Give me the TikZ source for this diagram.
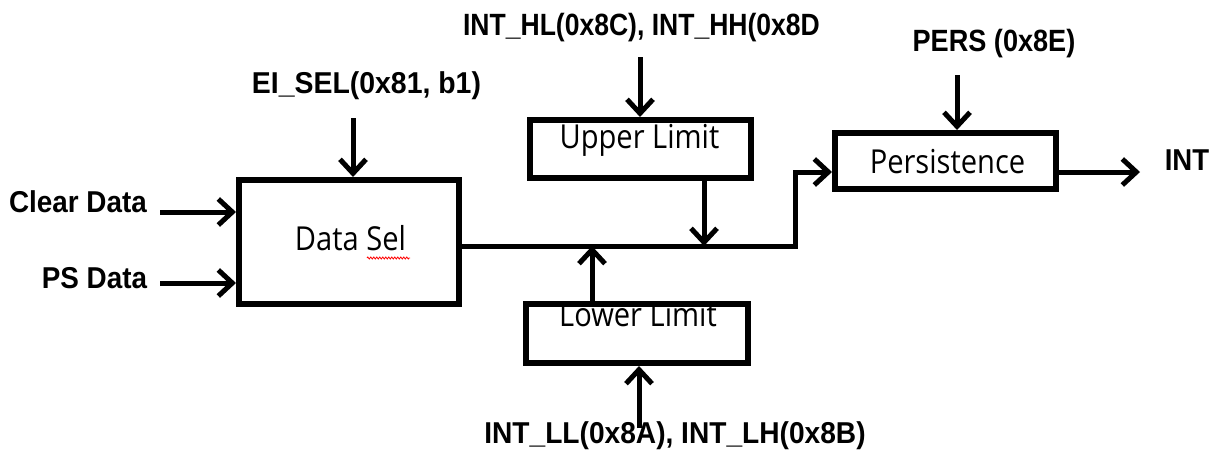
\documentclass[tikz,border=0pt]{standalone}
\usepackage{fontspec}
\setmainfont{Liberation Sans}
\newfontfamily\boxfont{Open Sans}
\usetikzlibrary{arrows.meta,decorations.pathmorphing}
\tikzset{
  blk/.style={draw, line width=6pt, inner sep=0pt, rectangle},
  conn/.style={line width=5pt, -{Straight Barb[length=14pt,width=26pt]}},
  lbl/.style={inner sep=0pt, anchor=base, font=\fontsize{29}{33}\selectfont\bfseries},
  btxt/.style={inner sep=0pt, anchor=base, font=\fontsize{30}{34}\selectfont\boxfont}
}
\begin{document}
\begin{tikzpicture}[x=1pt,y=-1pt]
\useasboundingbox (0,0) rectangle (1225,450);
% boxes
\node[blk, minimum width=220pt, minimum height=124pt] (dsel) at (349,242) {};
\node[blk, minimum width=221pt, minimum height=58pt] (upper) at (640.5,149) {};
\node[blk, minimum width=222pt, minimum height=59pt] (lower) at (637,333.5) {};
\node[blk, minimum width=221pt, minimum height=56pt] (pers) at (945.5,161) {};
% box texts
\node[btxt] (dseltxt) at (350.5,250) {\scalebox{0.97}[1.1]{Data Sel}};
\node[btxt] (uppertxt) at (639.5,148.3) {\scalebox{0.97}[1.1]{Upper Limit}};
\node[btxt] (lowertxt) at (638,326.7) {\scalebox{0.97}[1.1]{Lower Limit}};
\node[btxt] (perstxt) at (947.5,173.3) {\scalebox{0.97}[1.1]{Persistence}};
\draw[red, line width=0.8pt, decorate, decoration={zigzag, segment length=3pt, amplitude=1pt}] (367,258) -- (410,258);
% coordinates
\coordinate (cdS) at (160,212);
\coordinate (psS) at (160,283);
\coordinate (eiS) at (353,118);
\coordinate (hlS) at (640,57);
\coordinate (llS) at (639,428);
\coordinate (peS) at (957,75);
\coordinate (uhit) at (704,246);
\coordinate (lhit) at (592,246);
\coordinate (bend) at (795,246);
\coordinate (pin) at (832,172);
\coordinate (out) at (1140,172);
% connectors
\draw[conn] (cdS) -- (cdS -| dsel.west);
\draw[conn] (psS) -- (psS -| dsel.west);
\draw[conn] (eiS) -- (eiS |- dsel.north);
\draw[conn] (hlS) -- (hlS |- upper.north);
\draw[conn] (peS) -- (peS |- pers.north);
\draw[conn] (llS) -- (llS |- lower.south);
\draw[conn] (uhit |- upper.south) -- (uhit);
\draw[conn] (lhit |- lower.north) -- (lhit);
\draw[conn] (dsel.east |- bend) -- (bend) -- (bend |- pin) -- (pin -| pers.west);
\draw[conn] (out -| pers.east) -- (out);
% labels
\node[lbl] (cd) at (78,212.5) {\scalebox{0.96}[1.04]{Clear Data}};
\node[lbl] (ps) at (94.5,288) {\scalebox{0.96}[1.04]{PS Data}};
\node[lbl] (ei) at (366.5,93.3) {\scalebox{0.98}[1.04]{EI\_SEL(0x81, b1)}};
\node[lbl] (hl) at (641.5,35.7) {\scalebox{0.915}[1.06]{INT\_HL(0x8C), INT\_HH(0x8D}};
\node[lbl] (pe) at (994,51.7) {\scalebox{0.935}[1.06]{PERS (0x8E)}};
\node[lbl] (ll) at (675,443.3) {\scalebox{0.97}[1.04]{INT\_LL(0x8A), INT\_LH(0x8B)}};
\node[lbl] (int) at (1187,170) {\scalebox{0.95}[1.04]{INT}};
\end{tikzpicture}
\end{document}
